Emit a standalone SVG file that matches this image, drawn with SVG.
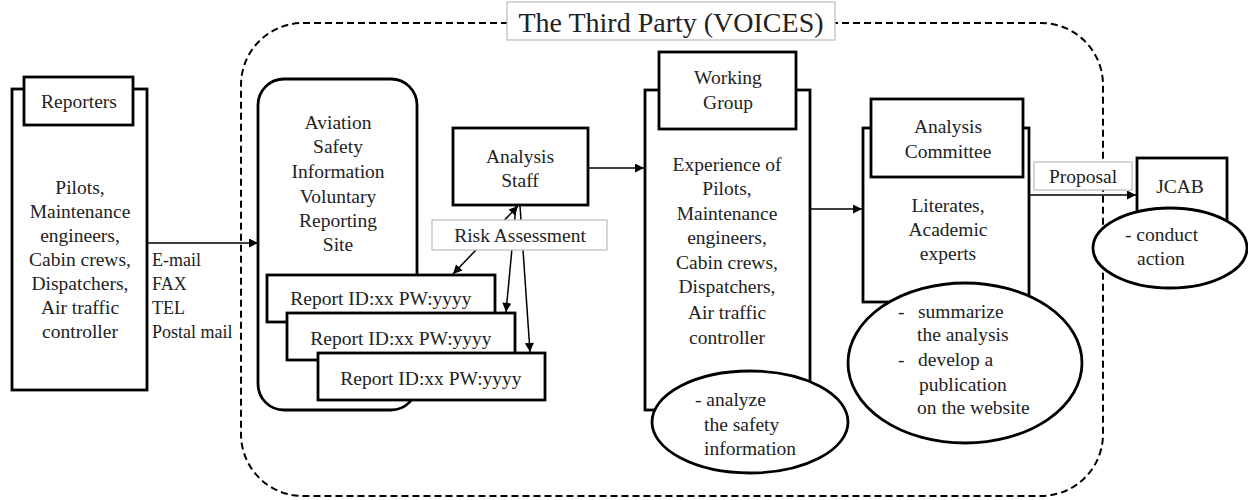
<svg xmlns="http://www.w3.org/2000/svg" width="1248" height="500" viewBox="0 0 1248 500">
<style>
text{font-family:'Times New Roman','Liberation Serif',serif;font-size:19.5px;fill:#222}
.c{text-anchor:middle}
.sm{font-size:18px}
.big{font-size:28px}
.box{fill:#fff;stroke:#000;stroke-width:2.8}
.lbl{fill:#fff;stroke:#bbb;stroke-width:1.2}
.ln{fill:none;stroke:#000;stroke-width:1.5}
.dash{fill:none;stroke:#000;stroke-width:2;stroke-dasharray:7 4}
</style>
<defs>
<marker id="ah" viewBox="0 0 10 10" refX="10" refY="5" markerWidth="10" markerHeight="9" markerUnits="userSpaceOnUse" orient="auto-start-reverse">
<path d="M0,0 L10,5 L0,10 z" fill="#000"/>
</marker>
</defs>
<rect width="1248" height="500" fill="#fff"/>

<g id="third-party">
<rect class="dash" x="241" y="23" width="862" height="473" rx="62" ry="62"/>
<rect class="lbl" x="507" y="2" width="328" height="38"/>
<text class="c big" x="671" y="32">The Third Party (VOICES)</text>
</g>

<g id="reporters">
<rect class="box" x="12" y="89" width="135" height="301"/>
<rect class="box" x="24" y="77" width="109" height="48"/>
<text class="c" x="79" y="108">Reporters</text>
<text class="c" x="80" y="194">Pilots,</text>
<text class="c" x="80" y="218">Maintenance</text>
<text class="c" x="80" y="242">engineers,</text>
<text class="c" x="80" y="266">Cabin crews,</text>
<text class="c" x="80" y="290">Dispatchers,</text>
<text class="c" x="80" y="314">Air traffic</text>
<text class="c" x="80" y="338">controller</text>
</g>

<g id="site">
<rect class="box" x="258" y="79" width="159" height="331" rx="26" ry="26"/>
<text class="c" x="338" y="129">Aviation</text>
<text class="c" x="338" y="153">Safety</text>
<text class="c" x="338" y="178">Information</text>
<text class="c" x="338" y="203">Voluntary</text>
<text class="c" x="338" y="227">Reporting</text>
<text class="c" x="338" y="251">Site</text>
</g>

<g id="report1">
<rect class="box" x="267" y="275" width="228" height="47"/>
<text class="c" x="381" y="305">Report ID:xx PW:yyyy</text>
</g>
<g id="report2">
<rect class="box" x="287" y="313" width="228" height="47"/>
<text class="c" x="401" y="345">Report ID:xx PW:yyyy</text>
</g>
<g id="report3">
<rect class="box" x="318" y="353" width="227" height="47"/>
<text class="c" x="431" y="385">Report ID:xx PW:yyyy</text>
</g>

<g id="analysis-staff">
<rect class="box" x="453" y="128" width="135" height="77"/>
<text class="c" x="520" y="163">Analysis</text>
<text class="c" x="520" y="187">Staff</text>
</g>

<g id="working-group">
<rect class="box" x="645" y="90" width="165" height="320"/>
<rect class="box" x="659" y="52" width="137" height="77"/>
<text class="c" x="728" y="84">Working</text>
<text class="c" x="728" y="109">Group</text>
<text class="c" x="727" y="171">Experience of</text>
<text class="c" x="727" y="195">Pilots,</text>
<text class="c" x="727" y="220">Maintenance</text>
<text class="c" x="727" y="244">engineers,</text>
<text class="c" x="727" y="269">Cabin crews,</text>
<text class="c" x="727" y="293">Dispatchers,</text>
<text class="c" x="727" y="319">Air traffic</text>
<text class="c" x="727" y="344">controller</text>
<ellipse class="box" cx="750" cy="422" rx="98" ry="51"/>
<text x="695" y="406">- analyze</text>
<text x="704" y="431">the safety</text>
<text x="704" y="455">information</text>
</g>

<g id="analysis-committee">
<rect class="box" x="863" y="128" width="166" height="174"/>
<rect class="box" x="871" y="99" width="152" height="78"/>
<text class="c" x="948" y="133">Analysis</text>
<text class="c" x="948" y="158">Committee</text>
<text class="c" x="948" y="212">Literates,</text>
<text class="c" x="948" y="236">Academic</text>
<text class="c" x="948" y="260">experts</text>
<ellipse class="box" cx="965" cy="363" rx="117" ry="80"/>
<text x="898" y="318">-</text>
<text x="918" y="318">summarize</text>
<text x="917" y="341">the analysis</text>
<text x="898" y="366">-</text>
<text x="918" y="366">develop a</text>
<text x="919" y="391">publication</text>
<text x="917" y="414">on the website</text>
</g>

<g id="jcab">
<rect class="box" x="1137" y="158" width="90" height="80"/>
<text class="c" x="1180" y="193">JCAB</text>
<ellipse class="box" cx="1170" cy="248" rx="77" ry="40"/>
<text x="1125" y="241">- conduct</text>
<text x="1137" y="265">action</text>
</g>

<g id="connectors">
<line class="ln" x1="147" y1="243" x2="258" y2="243" marker-end="url(#ah)"/>
<text class="sm" x="152" y="266">E-mail</text>
<text class="sm" x="152" y="290">FAX</text>
<text class="sm" x="152" y="314">TEL</text>
<text class="sm" x="152" y="338">Postal mail</text>
<line class="ln" x1="588" y1="168" x2="644" y2="168" marker-end="url(#ah)"/>
<line class="ln" x1="518" y1="206" x2="453" y2="274" marker-start="url(#ah)" marker-end="url(#ah)"/>
<line class="ln" x1="516" y1="206" x2="506" y2="312" marker-end="url(#ah)"/>
<line class="ln" x1="520" y1="206" x2="530" y2="352" marker-end="url(#ah)"/>
<rect class="lbl" x="432" y="220" width="175" height="30"/>
<text class="c" x="520" y="242">Risk Assessment</text>
<line class="ln" x1="810" y1="209" x2="862" y2="209" marker-end="url(#ah)"/>
<line class="ln" x1="1029" y1="195" x2="1136" y2="195" marker-end="url(#ah)"/>
<rect class="lbl" x="1034" y="162" width="98" height="28"/>
<text class="c" x="1083" y="183">Proposal</text>
</g>
</svg>
